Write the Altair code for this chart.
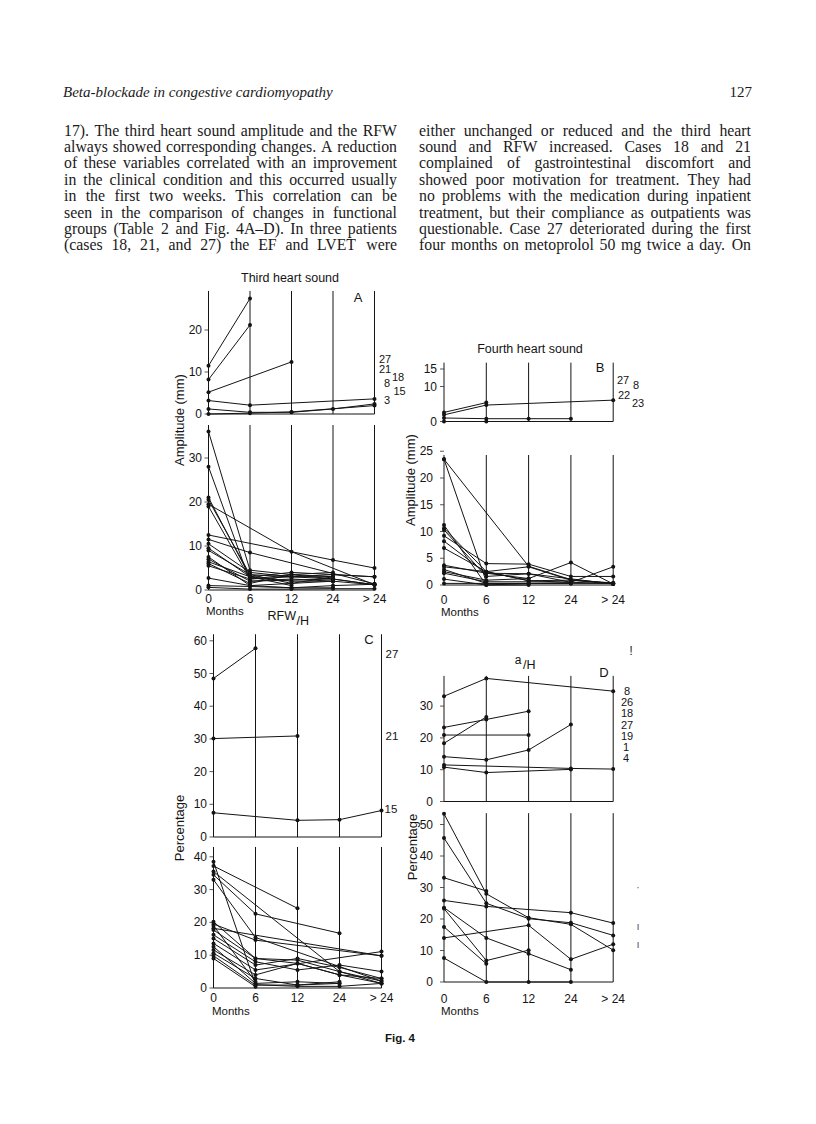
import altair as alt
import pandas as pd

OFF = 8
INK = "#141414"
SANS = "Liberation Sans"
SERIF = "Liberation Serif"

# ---------------- text content ----------------
HEADER_TITLE = "Beta-blockade in congestive cardiomyopathy"
PAGE_NO = "127"
LEFT_COL = [
    "17). The third heart sound amplitude and the RFW",
    "always showed corresponding changes. A reduction",
    "of these variables correlated with an improvement",
    "in the clinical condition and this occurred usually",
    "in the first two weeks. This correlation can be",
    "seen in the comparison of changes in functional",
    "groups (Table 2 and Fig. 4A\u2013D). In three patients",
    "(cases 18, 21, and 27) the EF and LVET were",
]
RIGHT_COL = [
    "either unchanged or reduced and the third heart",
    "sound and RFW increased. Cases 18 and 21",
    "complained of gastrointestinal discomfort and",
    "showed poor motivation for treatment. They had",
    "no problems with the medication during inpatient",
    "treatment, but their compliance as outpatients was",
    "questionable. Case 27 deteriorated during the first",
    "four months on metoprolol 50 mg twice a day. On",
]
CAPTION = "Fig. 4"
MONTHS = ["0", "6", "12", "24", "> 24"]

# ---------------- data (values at 0, 6, 12, 24, >24 months) ----------------
A_UP_CASES = ["27", "21", "18", "8", "15", "3"]
A_UP = [
    [11.5, 27.5, None, None, None],
    [8.2, 21.2, None, None, None],
    [5.2, None, 12.4, None, None],
    [3.2, 2.1, None, None, 3.6],
    [1.2, 0.4, 0.4, 1.2, 2.4],
    [0.0, 0.2, 0.5, None, 2.0],
]
A_LO = [
    [36.0, 4.5, 3.5, 3.0, None],
    [28.0, 2.0, None, 2.5, 1.2],
    [21.0, 3.0, 4.0, 3.5, 3.0],
    [20.5, 3.5, 3.0, 3.0, None],
    [19.5, None, 8.7, None, 1.2],
    [19.0, 2.5, 3.5, 2.5, 1.2],
    [12.5, None, None, 6.8, 5.0],
    [11.5, 8.5, None, None, 1.4],
    [10.5, 4.0, 3.0, 3.5, 3.0],
    [9.5, 3.0, 2.0, 2.0, None],
    [9.0, 3.5, 1.5, 3.0, None],
    [7.5, 1.0, 0.5, 1.0, 1.3],
    [7.0, 2.0, 2.5, 2.0, None],
    [6.4, 3.0, 1.0, None, None],
    [6.0, 1.5, 3.5, 4.0, None],
    [5.5, 2.5, 3.0, 2.5, None],
    [2.7, 1.0, 1.5, 2.0, 1.2],
    [1.0, 0.8, 0.5, 0.5, None],
    [0.6, 0.2, 0.2, 0.3, 0.3],
]
B_UP_CASES = ["27", "8", "22", "23"]
B_UP = [
    [2.6, 5.4, None, None, None],
    [1.9, 4.7, None, None, 6.1],
    [1.0, 0.8, 0.8, 0.8, None],
    [0.0, 0.0, None, None, None],
]
B_LO = [
    [23.5, None, 3.5, 1.0, 0.3],
    [23.5, 0.6, 0.6, 0.5, 0.3],
    [11.2, 0.0, 0.3, None, None],
    [10.6, 2.5, 0.8, 0.9, 0.4],
    [10.3, 1.6, 2.1, 0.5, None],
    [9.2, 4.0, 3.9, 1.6, 1.6],
    [8.2, 2.2, 2.1, None, 0.2],
    [6.9, 2.5, 3.4, 0.9, 0.2],
    [3.7, 2.2, 1.2, 4.2, 0.2],
    [3.4, 2.5, 0.8, 0.5, 3.4],
    [2.9, 0.3, 0.3, 0.3, None],
    [2.5, 0.9, 1.2, None, None],
    [2.2, 0.6, None, None, None],
    [1.1, 0.0, 0.0, None, None],
    [0.3, 0.3, 0.3, 0.3, 0.3],
]
C_UP_CASES = ["27", "21", "15"]
C_UP = [
    [48.5, 57.7, None, None, None],
    [30.1, None, 30.9, None, None],
    [7.4, None, 5.1, 5.3, 8.1],
]
C_LO = [
    [38.5, 1.0, 0.5, 0.5, 1.4],
    [37.2, None, 24.3, None, None],
    [35.5, None, None, 5.0, 1.4],
    [34.5, 22.6, None, 16.7, None],
    [33.0, 15.4, None, None, 2.1],
    [20.2, 9.0, 7.5, 4.0, 2.9],
    [19.5, 14.6, None, None, 9.8],
    [19.0, 1.9, None, None, None],
    [18.2, None, None, None, 9.8],
    [17.7, 9.0, 8.5, 5.0, 2.1],
    [16.2, 8.0, 5.5, 7.0, 5.0],
    [15.1, 7.0, 9.0, 6.3, 2.9],
    [13.6, 5.5, None, None, 11.1],
    [12.6, 1.4, 1.9, 1.4, None],
    [11.6, 4.0, 7.5, 4.0, 1.4],
    [10.6, 2.9, 0.9, 1.9, None],
    [9.8, 0.9, 0.9, 1.4, None],
    [9.0, 0.4, None, None, None],
]
D_UP_CASES = ["8", "26", "18", "27", "19", "1", "4"]
D_UP = [
    [33.1, 38.7, None, None, 34.7],
    [23.3, 25.8, 28.4, None, None],
    [18.3, 26.6, None, None, None],
    [20.9, None, 20.9, None, None],
    [14.1, 13.1, 16.2, 24.2, None],
    [11.5, None, None, 10.4, 10.2],
    [10.8, 9.1, None, 10.1, None],
]
D_LO = [
    [53.4, 28.0, 20.4, 18.3, 10.1],
    [45.7, 25.0, 20.1, 18.8, 14.8],
    [33.1, 28.9, None, None, None],
    [25.9, 24.0, None, 22.0, 18.7],
    [23.6, 14.0, 9.0, 3.9, None],
    [23.3, 6.8, 10.1, None, None],
    [17.5, 5.8, None, None, None],
    [14.0, None, 18.0, 7.2, 12.0],
    [7.6, 0.0, 0.0, 0.0, None],
]

A_UP_TICKS = [0, 10, 20]
A_LO_TICKS = [0, 10, 20, 30]
B_UP_TICKS = [0, 10, 15]
B_LO_TICKS = [0, 5, 10, 15, 20, 25]
C_UP_TICKS = [0, 10, 20, 30, 40, 50, 60]
C_LO_TICKS = [0, 10, 20, 30, 40]
D_UP_TICKS = [0, 10, 20, 30]
D_LO_TICKS = [0, 10, 20, 30, 40, 50]

# ---------------- layout (page pixels) ----------------
GEO = {
    "A_up": dict(x0=208.5, dx=41.5, y0=414.0, ppu=4.2, top=29.3, lab_x=202),
    "A_lo": dict(x0=208.5, dx=41.5, y0=590.0, ppu=4.4, top=37.5, lab_x=202, my=598.5),
    "B_up": dict(x0=444.0, dx=42.3, y0=421.5, ppu=3.5, top=16.8, lab_x=437),
    "B_lo": dict(x0=444.0, dx=42.3, y0=585.0, ppu=5.35, top=24.3, lab_x=433, my=600),
    "C_up": dict(x0=213.5, dx=42.0, y0=837.0, ppu=3.27, top=62.0, lab_x=207),
    "C_lo": dict(x0=213.5, dx=42.0, y0=988.0, ppu=3.28, top=43.0, lab_x=207, my=998.0),
    "D_up": dict(x0=444.0, dx=42.3, y0=801.5, ppu=3.18, top=39.5, lab_x=433),
    "D_lo": dict(x0=444.0, dx=42.3, y0=982.0, ppu=3.15, top=53.6, lab_x=433, my=998.5),
}

layers = []


def T(s, x, y, size=12, align="center", baseline="middle", angle=0, font=SANS,
      style="normal", weight="normal", color=INK):
    kw = dict(align=align, baseline=baseline, fontSize=size, font=font,
              fontStyle=style, fontWeight=weight, color=color)
    if angle:
        kw["angle"] = angle
    return alt.Chart(alt.Data(values=[{}])).mark_text(**kw).encode(
        x=alt.value(x - OFF), y=alt.value(y - OFF), text=alt.value(s))


def panel(g, series, ticks):
    xs = alt.Scale(domain=[0, 4], range=[g["x0"] - OFF, g["x0"] + 4 * g["dx"] - OFF],
                   nice=False, zero=False)
    ys = alt.Scale(domain=[0, 10], range=[g["y0"] - OFF, g["y0"] - 10 * g["ppu"] - OFF],
                   nice=False, zero=False)
    out = []
    grid = pd.DataFrame({"i": list(range(5)), "lo": [0.0] * 5, "hi": [g["top"]] * 5})
    out.append(alt.Chart(grid).mark_rule(color=INK, strokeWidth=1.0).encode(
        x=alt.X("i:Q", scale=xs, axis=None),
        y=alt.Y("lo:Q", scale=ys, axis=None), y2="hi:Q"))
    base = pd.DataFrame({"a": [0], "b": [4], "v": [0.0]})
    out.append(alt.Chart(base).mark_rule(color=INK, strokeWidth=1.0).encode(
        x=alt.X("a:Q", scale=xs, axis=None), x2="b:Q",
        y=alt.Y("v:Q", scale=ys, axis=None)))
    tk = pd.DataFrame({"v": ticks, "i": [0] * len(ticks), "lab": [str(t) for t in ticks]})
    out.append(alt.Chart(tk).mark_tick(orient="horizontal", size=4, thickness=1.0,
                                       color=INK, xOffset=-2).encode(
        x=alt.X("i:Q", scale=xs, axis=None), y=alt.Y("v:Q", scale=ys, axis=None)))
    out.append(alt.Chart(tk).mark_text(align="right", baseline="middle", fontSize=12,
                                       font=SANS, color=INK).encode(
        x=alt.value(g["lab_x"] - OFF), y=alt.Y("v:Q", scale=ys, axis=None), text="lab:N"))
    rows = []
    for k, vals in enumerate(series):
        for i, v in enumerate(vals):
            if v is not None:
                rows.append({"s": k, "i": i, "v": v})
    df = pd.DataFrame(rows)
    out.append(alt.Chart(df).mark_line(color=INK, strokeWidth=1.0).encode(
        x=alt.X("i:Q", scale=xs, axis=None), y=alt.Y("v:Q", scale=ys, axis=None),
        detail="s:N", order="i:Q"))
    out.append(alt.Chart(df).mark_circle(size=16, color=INK, opacity=1).encode(
        x=alt.X("i:Q", scale=xs, axis=None), y=alt.Y("v:Q", scale=ys, axis=None)))
    if "my" in g:
        md = pd.DataFrame({"i": list(range(5)), "m": MONTHS})
        out.append(alt.Chart(md).mark_text(align="center", baseline="middle", fontSize=12,
                                           font=SANS, color=INK).encode(
            x=alt.X("i:Q", scale=xs, axis=None), y=alt.value(g["my"] - OFF), text="m:N"))
    return out


layers += panel(GEO["A_up"], A_UP, A_UP_TICKS)
layers += panel(GEO["A_lo"], A_LO, A_LO_TICKS)
layers += panel(GEO["B_up"], B_UP, B_UP_TICKS)
layers += panel(GEO["B_lo"], B_LO, B_LO_TICKS)
layers += panel(GEO["C_up"], C_UP, C_UP_TICKS)
layers += panel(GEO["C_lo"], C_LO, C_LO_TICKS)
layers += panel(GEO["D_up"], D_UP, D_UP_TICKS)
layers += panel(GEO["D_lo"], D_LO, D_LO_TICKS)

# ---------------- body text, justified ----------------
TW = {" ": 250, "!": 333, "(": 333, ")": 333, ",": 250, "-": 333, ".": 250, "\u2013": 500,
      ":": 278, ";": 278}
for c in "0123456789":
    TW[c] = 500
TW.update(dict(A=722, B=667, C=667, D=722, E=611, F=556, G=722, H=722, I=333, J=389, K=722,
               L=611, M=889, N=722, O=722, P=556, Q=722, R=667, S=556, T=611, U=722, V=722,
               W=944, X=722, Y=722, Z=611, a=444, b=500, c=444, d=500, e=444, f=333, g=500,
               h=500, i=278, j=278, k=500, l=278, m=778, n=500, o=500, p=500, q=500, r=333,
               s=389, t=278, u=500, v=500, w=722, x=500, y=500, z=444))


def em(s):
    return sum(TW.get(c, 500) for c in s) / 1000.0


COLS = [(LEFT_COL, 64.0, 397.0), (RIGHT_COL, 419.0, 751.0)]
max_em = max(em(l) for l in LEFT_COL + RIGHT_COL)
FS = min(15.8, 0.99 * 333.0 / max_em)
Y_FIRST, LH = 130.5, 16.4

for lines, left, right in COLS:
    rows = []
    for k, line in enumerate(lines):
        words = line.split(" ")
        ws = [em(w) * FS for w in words]
        gap = (right - left - sum(ws)) / (len(words) - 1)
        x = left
        for w, wd in zip(words, ws):
            rows.append({"w": w, "x": x - OFF, "y": Y_FIRST + k * LH - OFF})
            x += wd + gap
    layers.append(alt.Chart(pd.DataFrame(rows)).mark_text(
        align="left", baseline="middle", font=SERIF, fontSize=FS, color="#1a1a1a").encode(
        x=alt.X("x:Q", scale=None), y=alt.Y("y:Q", scale=None), text="w:N"))

layers.append(T(HEADER_TITLE, 63, 92, size=15, align="left", font=SERIF, style="italic",
                color="#1a1a1a"))
layers.append(T(PAGE_NO, 752, 92, size=15, align="right", font=SERIF, color="#1a1a1a"))

# ---------------- figure annotations ----------------
layers += [
    T("Third heart sound", 290, 278, size=12.5),
    T("A", 358, 298, size=13),
    T("27", 385, 360, size=11), T("21", 385, 370, size=11), T("18", 398, 378, size=11),
    T("8", 387, 384, size=11), T("15", 399.5, 392, size=11), T("3", 387, 401, size=11),
    T("Amplitude (mm)", 180, 420, size=13, angle=270),
    T("Months", 206, 612, size=11.5, align="left"),
    T("RFW", 296, 616, size=12.5, align="right"), T("/H", 296.5, 621, size=12.5, align="left"),

    T("Fourth heart sound", 530, 349, size=12.5),
    T("B", 600, 368, size=13),
    T("27", 623, 381, size=11), T("8", 636, 386, size=11), T("22", 624, 396, size=11),
    T("23", 638, 404, size=11),
    T("Amplitude (mm)", 411, 480, size=13, angle=270),
    T("Months", 441, 613, size=11.5, align="left"),

    T("C", 369, 640, size=13),
    T("27", 392, 655, size=11.5), T("21", 392, 737, size=11.5), T("15", 391, 810, size=11.5),
    T("Percentage", 180, 828, size=13, angle=270),
    T("Months", 212, 1012, size=11.5, align="left"),

    T("a", 518, 660, size=12), T("/H", 523, 665, size=12.5, align="left"),
    T("D", 604, 673, size=13),
    T("8", 627, 692, size=11), T("26", 627, 703, size=11), T("18", 627, 714, size=11),
    T("27", 627, 726, size=11), T("19", 627, 737, size=11), T("1", 626, 748, size=11),
    T("4", 626, 759, size=11),
    T("Percentage", 413, 847, size=13, angle=270),
    T("Months", 441, 1011.5, size=11.5, align="left"),

    T(CAPTION, 400, 1039, size=11.5, weight="bold"),

    T("\u01c3", 631, 651, size=13, color="#333"),
    T("\u00b7", 638, 887, size=12, color="#777"),
    T("\u0131", 638, 927, size=11, color="#555"),
    T("\u0131", 638, 945, size=11, color="#555"),
    T("\u00b7", 410, 872, size=12, color="#666"),
]

chart = alt.layer(*layers).resolve_scale(x="independent", y="independent").properties(
    width=800, height=1108, padding=0, autosize="none", background="white"
).configure_view(stroke=None)

chart.save("out.html", embed_options={"renderer": "svg", "actions": False})
